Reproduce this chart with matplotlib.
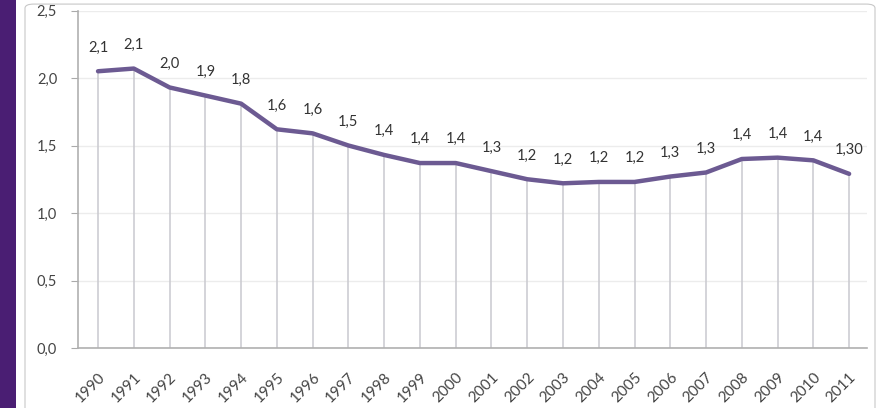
import matplotlib.pyplot as plt
from matplotlib.patches import Rectangle, FancyBboxPatch

# data
years = [str(y) for y in range(1990, 2012)]
values = [2.05, 2.07, 1.93, 1.87, 1.81, 1.62, 1.59, 1.50, 1.43, 1.37, 1.37,
          1.31, 1.25, 1.22, 1.23, 1.23, 1.27, 1.30, 1.40, 1.41, 1.39, 1.29]
labels = ['2,1', '2,1', '2,0', '1,9', '1,8', '1,6', '1,6', '1,5', '1,4', '1,4', '1,4',
          '1,3', '1,2', '1,2', '1,2', '1,2', '1,3', '1,3', '1,4', '1,4', '1,4', '1,30']
yticks = [0, 0.5, 1.0, 1.5, 2.0, 2.5]
ytick_labels = ['0,0', '0,5', '1,0', '1,5', '2,0', '2,5']

plt.rcParams['font.family'] = ['Lato', 'DejaVu Sans']

W, H = 881, 408
fig = plt.figure(figsize=(W / 100, H / 100), dpi=100)

# purple band at the left and white card with faint border
fig.patches.append(Rectangle((0, 0), 16 / W, 1, transform=fig.transFigure,
                             facecolor='#4a1e73', edgecolor='none', zorder=-2))
fig.patches.append(FancyBboxPatch((25 / W, -0.02), 850 / W, 1.01,
                                  boxstyle='round,pad=0,rounding_size=0.01',
                                  transform=fig.transFigure, facecolor='white',
                                  edgecolor='#c8c8c8', linewidth=0.8, zorder=-1))

ax = fig.add_axes([78 / W, 1 - 348 / H, (867 - 78) / W, (348 - 10.5) / H])
ax.set_facecolor('none')
ax.set_zorder(2)

x = list(range(len(years)))
ax.vlines(x, 0, values, color='#c9c9cf', linewidth=1.1, zorder=1)
ax.plot(x, values, color='#6c5a92', linewidth=3.2, solid_capstyle='round', zorder=3)

for xi, v, lab in zip(x, values, labels):
    ax.annotate(lab, (xi, v), xytext=(0, 12), textcoords='offset points',
                ha='center', va='bottom', fontsize=10.5, color='#333333')

ax.set_xlim(-0.56, 21.5)
ax.set_ylim(0, 2.5)
ax.set_yticks(yticks)
ax.set_yticklabels(ytick_labels, fontsize=10.5, color='#444444')
ax.set_xticks(x)
ax.set_xticklabels(years, rotation=45, ha='right', rotation_mode='anchor',
                   fontsize=11, color='#444444')
ax.tick_params(axis='x', length=0, pad=16)
ax.tick_params(axis='y', length=5, color='#aaaaaa', pad=10)

ax.grid(axis='y', color='#ececec', linewidth=1.0, zorder=0)
ax.set_axisbelow(True)
for s in ['top', 'right']:
    ax.spines[s].set_visible(False)
for s in ['left', 'bottom']:
    ax.spines[s].set_color('#b0b0b0')
    ax.spines[s].set_linewidth(1.2)

fig.savefig('out.png', dpi=100)
